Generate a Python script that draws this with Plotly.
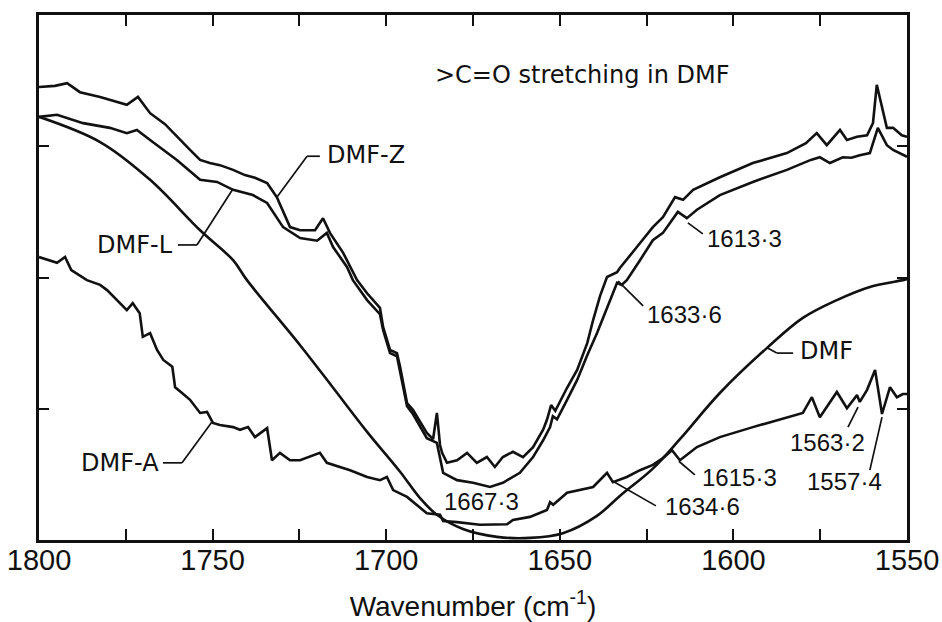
import plotly.graph_objects as go

# IR spectra of the carbonyl stretching region (transmittance, arbitrary scale)
wn_z = [1800.0, 1795.4, 1791.9, 1788.2, 1782.4, 1774.7, 1771.5, 1768.0, 1763.7, 1760.3,
        1756.5, 1753.6, 1750.8, 1747.9, 1744.1, 1740.7, 1737.8, 1734.3, 1731.5, 1727.7,
        1724.8, 1720.5, 1718.2, 1716.2, 1712.4, 1708.4, 1705.5, 1701.8, 1700.9, 1698.9,
        1696.9, 1696.0, 1694.0, 1692.3, 1688.3, 1686.5, 1685.4, 1684.5, 1683.9, 1682.5,
        1679.6, 1676.7, 1673.9, 1671.0, 1668.7, 1666.4, 1663.5, 1660.6, 1657.7, 1654.8,
        1653.7, 1652.5, 1651.3, 1647.9, 1645.0, 1642.1, 1640.4, 1638.4, 1636.4, 1633.5,
        1632.7, 1627.8, 1623.2, 1620.3, 1616.8, 1614.5, 1611.6, 1603.9, 1594.4, 1584.6,
        1579.1, 1576.0, 1573.1, 1569.3, 1567.3, 1564.4, 1561.5, 1559.8, 1558.7, 1555.8,
        1554.0, 1551.5, 1550.0]
t_z = [86.3, 86.5, 87.0, 85.3, 84.4, 82.9, 84.4, 81.3, 79.2, 76.8,
       74.3, 72.4, 71.8, 71.4, 70.5, 69.5, 69.0, 68.0, 65.3, 59.6,
       59.0, 59.0, 61.3, 58.5, 54.7, 49.5, 47.0, 44.2, 40.6, 36.2,
       35.6, 33.0, 26.1, 24.8, 20.4, 19.2, 24.2, 18.1, 16.6, 14.7,
       15.2, 16.6, 14.7, 15.8, 13.9, 15.8, 16.8, 15.8, 17.7, 21.0,
       22.9, 25.7, 24.6, 29.0, 32.4, 37.5, 41.9, 46.5, 50.1, 51.0,
       51.8, 55.8, 59.6, 61.5, 65.3, 64.8, 66.7, 69.1, 71.8, 73.7,
       75.6, 77.5, 75.2, 78.1, 76.2, 76.8, 77.1, 79.4, 86.7, 78.5,
       78.5, 77.1, 76.8]

wn_l = [1800.0, 1794.8, 1787.3, 1779.6, 1774.7, 1771.8, 1768.0, 1760.3, 1753.6, 1748.7,
        1744.1, 1738.4, 1734.3, 1729.7, 1724.8, 1719.9, 1717.1, 1715.3, 1711.3, 1709.6,
        1705.5, 1701.8, 1700.9, 1698.9, 1696.9, 1696.0, 1694.0, 1692.3, 1688.3, 1685.4,
        1683.6, 1679.6, 1675.0, 1670.1, 1666.4, 1661.5, 1657.7, 1654.8, 1652.8, 1652.0,
        1650.8, 1647.9, 1645.0, 1642.1, 1639.3, 1636.4, 1634.4, 1633.5, 1632.2, 1630.7,
        1626.9, 1623.2, 1620.3, 1616.0, 1613.4, 1610.5, 1603.9, 1594.4, 1584.6, 1577.7,
        1575.1, 1572.2, 1568.5, 1566.0, 1563.6, 1560.7, 1558.4, 1555.8, 1554.0, 1551.2,
        1550.0]
t_l = [80.6, 81.0, 79.4, 78.5, 77.5, 78.1, 76.2, 72.4, 68.6, 68.2,
       66.7, 65.7, 64.2, 59.6, 57.5, 57.0, 58.5, 55.8, 52.0, 49.5,
       45.7, 43.0, 40.0, 35.6, 35.0, 32.0, 25.5, 24.0, 19.4, 18.5,
       12.8, 11.4, 10.9, 10.1, 10.9, 12.8, 15.8, 19.0, 21.5, 23.6,
       23.0, 26.7, 30.5, 35.2, 39.4, 44.2, 47.6, 49.0, 48.6, 49.5,
       53.3, 57.1, 58.5, 62.5, 61.3, 62.9, 65.7, 68.2, 70.5, 72.4,
       72.9, 71.8, 72.9, 72.8, 73.3, 73.7, 78.5, 75.2, 74.3, 73.3,
       73.0]

wn_dmf = [1800.0, 1782.4, 1768.0, 1753.6, 1744.1, 1740.1, 1724.8, 1715.3, 1705.5, 1696.0,
          1690.3, 1685.4, 1677.9, 1668.1, 1658.6, 1649.1, 1639.3, 1632.7, 1623.2, 1615.4,
          1603.9, 1590.3, 1580.0, 1570.2, 1560.7, 1551.2, 1550.0]
t_dmf = [80.6, 75.8, 68.6, 59.0, 53.3, 49.5, 37.1, 29.0, 20.6, 13.0,
         8.0, 4.8, 2.1, 0.6, 0.4, 1.3, 4.6, 8.4, 13.6, 19.2,
         28.0, 36.6, 42.3, 45.7, 48.2, 49.5, 49.7]

wn_a = [1800.0, 1794.8, 1792.5, 1790.7, 1786.2, 1782.4, 1780.4, 1777.5, 1774.7, 1773.0,
        1771.0, 1770.1, 1768.0, 1766.0, 1764.2, 1761.6, 1760.8, 1758.8, 1756.5, 1753.6,
        1751.6, 1749.9, 1747.9, 1744.1, 1742.1, 1739.8, 1737.8, 1734.3, 1732.9, 1730.6,
        1727.7, 1724.8, 1719.1, 1717.1, 1710.4, 1705.5, 1701.8, 1699.8, 1698.0, 1694.0,
        1688.3, 1684.5, 1683.6, 1679.6, 1673.0, 1665.2, 1663.5, 1658.6, 1653.7, 1652.8,
        1651.9, 1647.9, 1644.2, 1640.4, 1636.4, 1634.7, 1630.7, 1626.9, 1623.2, 1620.3,
        1617.7, 1615.4, 1610.5, 1603.9, 1594.4, 1584.6, 1580.0, 1577.4, 1575.1, 1570.2,
        1567.3, 1564.4, 1563.6, 1561.5, 1559.2, 1557.2, 1554.9, 1552.9, 1551.2, 1550.0]
t_a = [53.9, 52.8, 53.9, 51.4, 49.5, 48.6, 47.6, 45.7, 43.8, 45.1,
       43.2, 38.7, 39.4, 36.2, 34.3, 33.0, 29.1, 28.0, 26.7, 24.2,
       24.4, 22.3, 21.9, 21.5, 21.0, 21.5, 19.6, 21.3, 15.2, 16.6,
       15.2, 15.2, 16.6, 14.7, 13.3, 12.0, 11.4, 12.0, 9.5, 8.2,
       5.1, 4.8, 3.6, 3.4, 2.9, 3.0, 3.8, 4.4, 5.7, 7.2,
       6.7, 9.0, 9.5, 10.1, 12.8, 11.0, 12.0, 13.3, 14.3, 15.6,
       17.1, 15.2, 17.7, 19.6, 21.5, 23.4, 24.2, 27.2, 23.4, 28.2,
       25.1, 27.6, 26.3, 28.6, 32.4, 24.0, 29.1, 27.2, 27.8, 27.8]

x_ticks = [1800, 1775, 1750, 1725, 1700, 1675, 1650, 1625, 1600, 1575, 1550]
x_tick_text = ["1800", "", "1750", "", "1700", "", "1650", "", "1600", "", "1550"]
y_ticks = [25, 50, 75]

# curve labels: (text, x, y, anchor, leader polyline)
curve_labels = [
    ("DMF-Z", 1717.6, 73.3, "left", [(1719.1, 73.1), (1722.8, 73.1), (1731.5, 65.3)]),
    ("DMF-L", 1760.8, 56.2, "right", [(1760.0, 56.2), (1754.5, 56.2), (1744.1, 66.9)]),
    ("DMF-A", 1764.8, 14.7, "right", [(1764.3, 14.7), (1758.8, 14.7), (1750.2, 22.5)]),
    ("DMF", 1581.4, 36.0, "left", [(1590.3, 36.6), (1587.5, 35.6), (1582.8, 35.6)]),
]
peak_labels = [
    ("1613·3", 1608.2, 57.5, [(1613.1, 60.4), (1608.8, 58.3)]),
    ("1633·6", 1625.5, 42.9, [(1633.2, 49.3), (1626.0, 44.6)]),
    ("1667·3", 1683.9, 7.4, []),
    ("1615·3", 1609.6, 12.0, [(1615.7, 15.0), (1611.1, 12.4)]),
    ("1634·6", 1620.3, 6.3, [(1634.7, 11.2), (1622.3, 6.5)]),
    ("1563·2", 1584.3, 18.5, [(1564.1, 25.3), (1567.0, 21.5)]),
    ("1557·4", 1579.4, 11.2, [(1557.2, 23.4), (1560.7, 13.3)]),
]

INK = "#111111"
fig = go.Figure()
for xs, ys, shape in [(wn_z, t_z, "linear"), (wn_l, t_l, "linear"),
                      (wn_dmf, t_dmf, "spline"), (wn_a, t_a, "linear")]:
    fig.add_trace(go.Scatter(x=xs, y=ys, mode="lines",
                             line=dict(color=INK, width=2.6, shape=shape),
                             hoverinfo="skip", showlegend=False))

shapes = []
annotations = []


def leader(points):
    for (x0, y0), (x1, y1) in zip(points[:-1], points[1:]):
        shapes.append(dict(type="line", xref="x", yref="y", x0=x0, y0=y0, x1=x1, y1=y1,
                           line=dict(color=INK, width=1.7)))


for text, x, y, anchor, pts in curve_labels:
    leader(pts)
    annotations.append(dict(text=text, x=x, y=y, xref="x", yref="y", showarrow=False,
                            xanchor=anchor, yanchor="middle",
                            font=dict(family="DejaVu Sans", size=24, color=INK)))

for text, x, y, pts in peak_labels:
    if pts:
        leader(pts)
    annotations.append(dict(text=text, x=x, y=y, xref="x", yref="y", showarrow=False,
                            xanchor="left", yanchor="middle",
                            font=dict(family="Liberation Sans", size=24, color=INK)))

annotations.append(dict(text="&gt;C=O stretching in DMF", x=1686.5, y=88.6, xref="x", yref="y",
                        showarrow=False, xanchor="left", yanchor="middle",
                        font=dict(family="DejaVu Sans", size=24, color=INK)))

fig.update_layout(
    width=942, height=622,
    margin=dict(l=39, r=35, t=15, b=82),
    paper_bgcolor="white", plot_bgcolor="white",
    shapes=shapes, annotations=annotations,
)
fig.update_xaxes(
    range=[1800, 1550], tickvals=x_ticks, ticktext=x_tick_text,
    ticks="inside", ticklen=11, tickwidth=2, tickcolor=INK,
    showline=True, linewidth=2.5, linecolor=INK, mirror="ticks",
    showgrid=False, zeroline=False, automargin=False,
    ticklabelstandoff=-8,
    tickfont=dict(family="Liberation Sans", size=29, color=INK),
    title=dict(text="Wavenumber (cm<sup>-1</sup>)", standoff=26,
               font=dict(family="Liberation Sans", size=28, color=INK)),
)
fig.update_yaxes(
    range=[0, 100], tickvals=y_ticks, showticklabels=False,
    ticks="inside", ticklen=10, tickwidth=2, tickcolor=INK,
    showline=True, linewidth=2.5, linecolor=INK, mirror="ticks",
    showgrid=False, zeroline=False, automargin=False,
)

fig.write_html("out.html")
